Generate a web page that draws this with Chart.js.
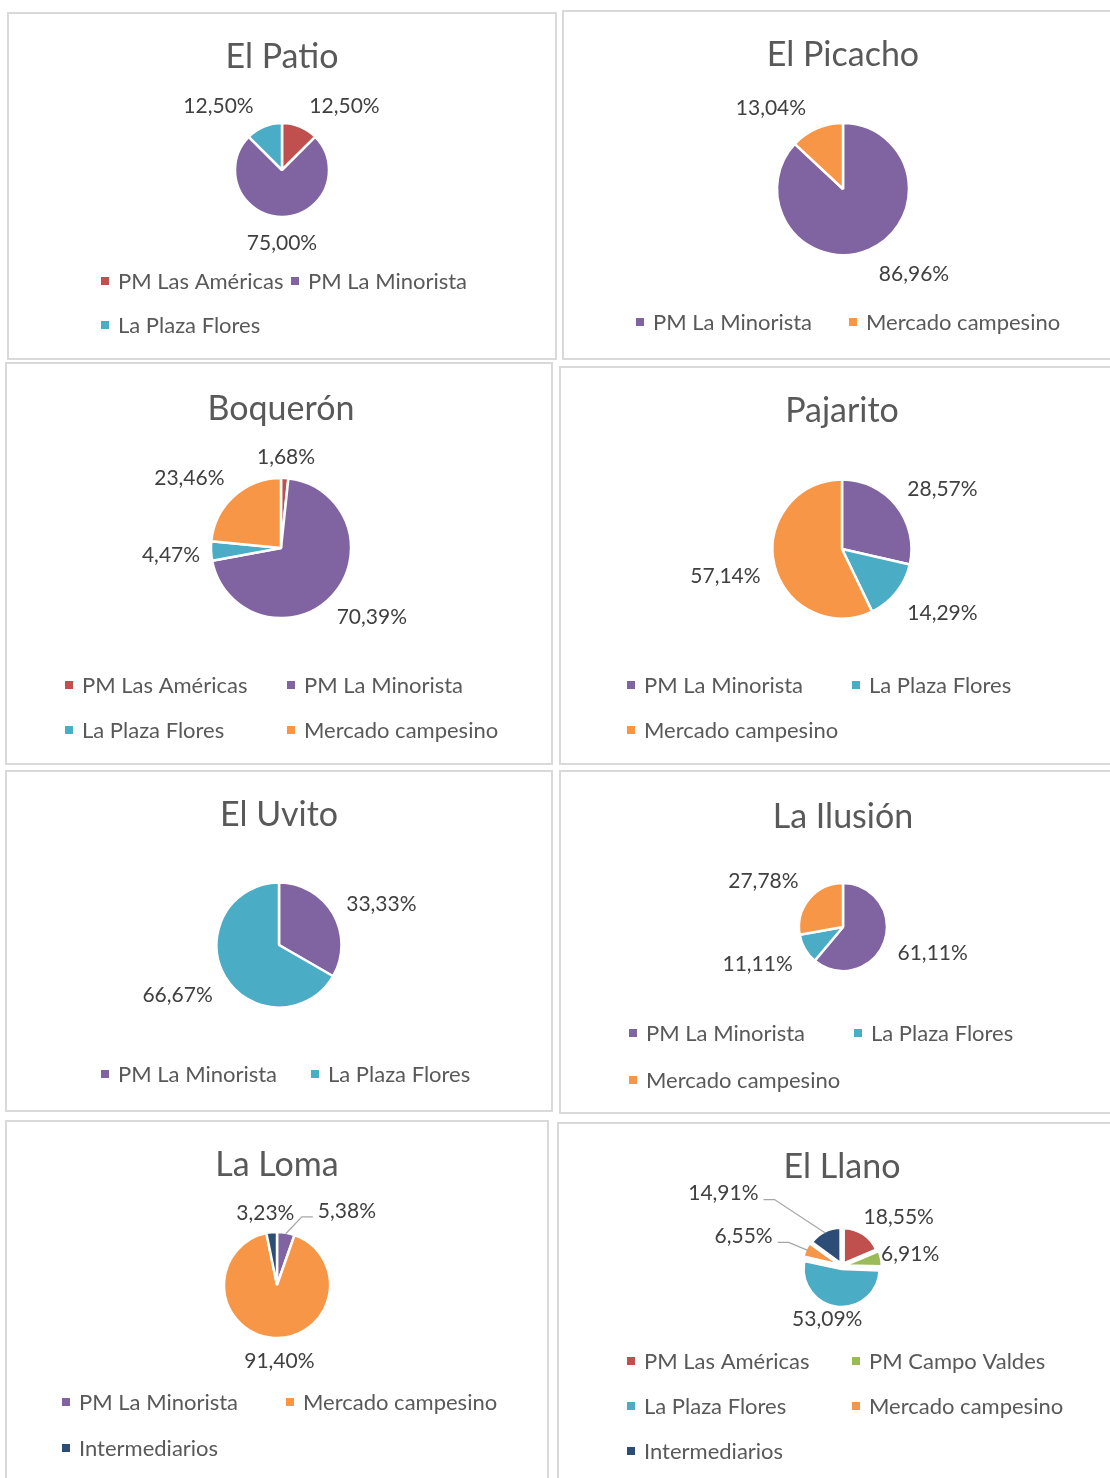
<!DOCTYPE html>
<html>
<head>
<meta charset="utf-8">
<script src="https://cdn.jsdelivr.net/npm/chart.js@4.4.1/dist/chart.umd.min.js"></script>
<style>
  html, body { margin: 0; padding: 0; background: #fff; }
  body { width: 1110px; height: 1478px; overflow: hidden; position: relative; }
  .frame { position: absolute; box-sizing: border-box; border: 2px solid #d9d9d9; }
  canvas { position: absolute; }
</style>
</head>
<body>
<script>
// categories and shares (%) for each locality
const patioLabels = ['PM Las Américas', 'PM La Minorista', 'La Plaza Flores'];
const patioValues = [12.50, 75.00, 12.50];

const picachoLabels = ['PM La Minorista', 'Mercado campesino'];
const picachoValues = [86.96, 13.04];

const boqueronLabels = ['PM Las Américas', 'PM La Minorista', 'La Plaza Flores', 'Mercado campesino'];
const boqueronValues = [1.68, 70.39, 4.47, 23.46];

const pajaritoLabels = ['PM La Minorista', 'La Plaza Flores', 'Mercado campesino'];
const pajaritoValues = [28.57, 14.29, 57.14];

const uvitoLabels = ['PM La Minorista', 'La Plaza Flores'];
const uvitoValues = [33.33, 66.67];

const ilusionLabels = ['PM La Minorista', 'La Plaza Flores', 'Mercado campesino'];
const ilusionValues = [61.11, 11.11, 27.78];

const lomaLabels = ['PM La Minorista', 'Mercado campesino', 'Intermediarios'];
const lomaValues = [5.38, 91.40, 3.23];

const llanoLabels = ['PM Las Américas', 'PM Campo Valdes', 'La Plaza Flores', 'Mercado campesino', 'Intermediarios'];
const llanoValues = [18.55, 6.91, 53.09, 6.55, 14.91];

const sourceColors = {
  'PM Las Américas': '#c0504d',
  'PM La Minorista': '#8064a2',
  'La Plaza Flores': '#4bacc6',
  'Mercado campesino': '#f79646',
  'PM Campo Valdes': '#9bbb59',
  'Intermediarios': '#2c4d75'
};

const FONT = "Lato, 'Open Sans', sans-serif";
const TITLE_SIZE = 34;
const LABEL_SIZE = 21;
const LEGEND_SIZE = 22;

// box = [left, top, width, height]; pie = [cx, cy, r] inside the box
const panels = [
  { title: 'El Patio', labels: patioLabels, values: patioValues,
    box: [7, 12, 550, 348], titleY: 45, pie: [275, 158, 46],
    legendX: [94, 284], legendY: [269, 313],
    shifts: [[4, 1], null, [-5, 1]] },
  { title: 'El Picacho', labels: picachoLabels, values: picachoValues,
    box: [562, 10, 562, 350], titleY: 45, pie: [281, 179, 65],
    legendX: [74, 287], legendY: [312],
    shifts: [[4, 0], [-5, 1]] },
  { title: 'Boquerón', labels: boqueronLabels, values: boqueronValues,
    box: [5, 362, 548, 403], titleY: 47, pie: [276, 186, 69],
    legendX: [60, 282], legendY: [323, 368],
    shifts: [[-4, 1], [-6, 0], [3, 0], null] },
  { title: 'Pajarito', labels: pajaritoLabels, values: pajaritoValues,
    box: [559, 366, 566, 399], titleY: 45, pie: [283, 183, 68.5],
    legendX: [68, 293], legendY: [319, 364] },
  { title: 'El Uvito', labels: uvitoLabels, values: uvitoValues,
    box: [5, 770, 548, 342], titleY: 45, pie: [274, 175, 61.5],
    legendX: [96, 306], legendY: [304],
    shifts: [[1, 5], null] },
  { title: 'La Ilusión', labels: ilusionLabels, values: ilusionValues,
    box: [559, 770, 568, 344], titleY: 47, pie: [284, 157, 43],
    legendX: [70, 295], legendY: [263, 310],
    shifts: [[0, -6], [0, -4], null] },
  { title: 'La Loma', labels: lomaLabels, values: lomaValues,
    box: [5, 1120, 544, 362], titleY: 45, pie: [272, 165, 52],
    legendX: [57, 281], legendY: [282, 328],
    shifts: [[44, 0, true], [14, -3], [4, 3]] },
  { title: 'El Llano', labels: llanoLabels, values: llanoValues,
    box: [557, 1122, 570, 364], titleY: 45, pie: [285, 144, 34], explode: 12,
    legendX: [70, 295], legendY: [239, 284, 329],
    shifts: [[-7, 3], [-12, 2], [5, -10], [-22, 0, true], [-60, -18, true]] }
];

function pct(v) {
  return v.toFixed(2).replace('.', ',') + '%';
}

function clamp1(v) {
  return Math.max(-1, Math.min(1, v));
}

// percentage labels outside each slice, with a leader line when moved away
const percentLabels = {
  id: 'percentLabels',
  afterDatasetsDraw(chart, args, opts) {
    const ctx = chart.ctx;
    const meta = chart.getDatasetMeta(0);
    const values = chart.data.datasets[0].data;
    const shifts = opts.shifts || [];
    ctx.save();
    ctx.font = LABEL_SIZE + 'px ' + FONT;
    ctx.textAlign = 'center';
    ctx.textBaseline = 'middle';
    meta.data.forEach((arc, i) => {
      const mid = (arc.startAngle + arc.endAngle) / 2;
      const move = (arc.options.offset || 0) / 4;
      const ox = arc.x + Math.cos(mid) * move;
      const oy = arc.y + Math.sin(mid) * move;
      const text = pct(values[i]);
      const w = ctx.measureText(text).width;
      const h = 20;
      const d = arc.outerRadius + 14;
      let lx = ox + Math.cos(mid) * d + w / 2 * clamp1(3 * Math.cos(mid));
      let ly = oy + Math.sin(mid) * d + h / 2 * clamp1(3 * Math.sin(mid)) + 2;
      const s = shifts[i];
      if (s) {
        lx += s[0];
        ly += s[1];
        if (s[2]) {
          const side = lx < ox ? 1 : -1;
          const sx = lx + side * (w / 2 + 5);
          const sy = ly + 6;
          const ex = ox + Math.cos(mid) * (arc.outerRadius - 1);
          const ey = oy + Math.sin(mid) * (arc.outerRadius - 1);
          ctx.strokeStyle = '#a6a6a6';
          ctx.lineWidth = 1.2;
          ctx.beginPath();
          ctx.moveTo(sx, sy);
          ctx.lineTo(sx + side * 11, sy);
          ctx.lineTo(ex, ey);
          ctx.stroke();
        }
      }
      ctx.fillStyle = '#404040';
      ctx.fillText(text, lx, ly);
    });
    ctx.restore();
  }
};

// legend laid out in fixed columns under the pie
const gridLegend = {
  id: 'gridLegend',
  afterDraw(chart, args, opts) {
    const ctx = chart.ctx;
    const labels = chart.data.labels;
    const colors = chart.data.datasets[0].backgroundColor;
    const ncol = opts.xs.length;
    ctx.save();
    ctx.font = LEGEND_SIZE + 'px ' + FONT;
    ctx.textAlign = 'left';
    ctx.textBaseline = 'middle';
    labels.forEach((name, i) => {
      const x = opts.xs[i % ncol];
      const y = opts.ys[Math.floor(i / ncol)];
      ctx.fillStyle = colors[i];
      ctx.fillRect(x, y - 4, 8, 8);
      ctx.fillStyle = '#595959';
      ctx.fillText(name, x + 17, y + 1);
    });
    ctx.restore();
  }
};

panels.forEach((p) => {
  const [bx, by, bw, bh] = p.box;
  const frame = document.createElement('div');
  frame.className = 'frame';
  frame.style.left = bx + 'px';
  frame.style.top = by + 'px';
  frame.style.width = bw + 'px';
  frame.style.height = bh + 'px';
  document.body.appendChild(frame);

  const canvas = document.createElement('canvas');
  canvas.width = bw;
  canvas.height = bh;
  canvas.style.left = bx + 'px';
  canvas.style.top = by + 'px';
  canvas.style.width = bw + 'px';
  canvas.style.height = bh + 'px';
  document.body.appendChild(canvas);

  const [cx, cy, r] = p.pie;
  const titlePadTop = p.titleY - TITLE_SIZE * 0.6;
  const areaTop = titlePadTop + TITLE_SIZE * 1.2;

  new Chart(canvas, {
    type: 'pie',
    data: {
      labels: p.labels,
      datasets: [{
        data: p.values,
        backgroundColor: p.labels.map((l) => sourceColors[l]),
        borderColor: '#ffffff',
        borderWidth: 2.5,
        offset: p.explode || 0,
        radius: r + 1,
        clip: false
      }]
    },
    options: {
      responsive: false,
      animation: false,
      events: [],
      layout: {
        padding: {
          top: 0,
          left: Math.max(0, 2 * cx - bw),
          right: Math.max(0, bw - 2 * cx),
          bottom: bh - (2 * cy - areaTop)
        }
      },
      plugins: {
        legend: { display: false },
        tooltip: { enabled: false },
        title: {
          display: true,
          text: p.title,
          color: '#595959',
          font: { family: FONT, size: TITLE_SIZE, weight: 'normal', lineHeight: 1.2 },
          padding: { top: titlePadTop, bottom: 0 }
        },
        percentLabels: { shifts: p.shifts },
        gridLegend: { xs: p.legendX, ys: p.legendY }
      }
    },
    plugins: [percentLabels, gridLegend]
  });
});
</script>
</body>
</html>
